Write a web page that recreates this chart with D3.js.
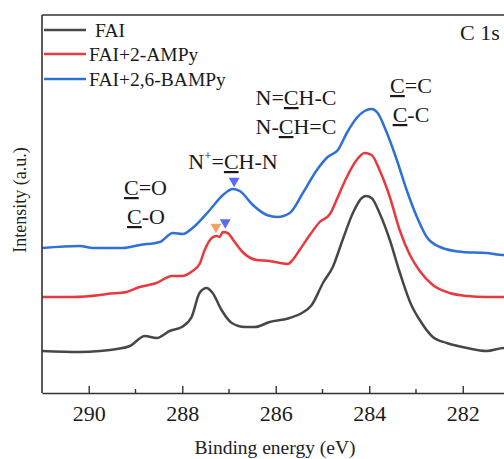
<!DOCTYPE html>
<html>
<head>
<meta charset="utf-8">
<script src="https://cdn.jsdelivr.net/npm/d3@7"></script>
<style>
  body { margin: 0; background: #fff; }
  svg text { font-family: "Liberation Serif", "Times New Roman", Times, serif; }
</style>
</head>
<body>
<svg class="svg"></svg>
<script>
// binding energy (eV) / intensity (a.u.)
const faiE = [291.0, 290.19, 289.76, 289.4, 289.12, 288.8, 288.55, 288.27, 288.01, 287.8, 287.63, 287.48, 287.35, 287.16, 286.94, 286.66, 286.45, 286.13, 285.7, 285.44, 285.23, 284.99, 284.78, 284.57, 284.35, 284.16, 284.07, 283.95, 283.78, 283.56, 283.35, 283.1, 282.92, 282.64, 282.34, 281.91, 281.49, 281.12, 281.0];
const faiI = [42, 41, 42, 44, 47, 57, 55, 62, 66, 76, 100, 105, 100, 83, 70, 66, 66, 71, 75, 80, 88, 110, 126, 153, 180, 195, 197, 195, 180, 153, 121, 88, 73, 56, 50, 45, 42, 45, 45];

const ampyE = [291.0, 290.34, 289.76, 289.61, 289.19, 288.91, 288.55, 288.22, 288.01, 287.78, 287.63, 287.52, 287.37, 287.26, 287.2, 287.13, 287.03, 286.88, 286.71, 286.41, 286.13, 285.91, 285.74, 285.64, 285.49, 285.27, 285.06, 284.84, 284.7, 284.48, 284.27, 284.1, 283.95, 283.78, 283.56, 283.35, 283.13, 282.92, 282.64, 282.28, 281.91, 281.49, 281.12, 281.0];
const ampyI = [96, 96, 98, 99, 101, 106, 110, 117, 117, 122, 129, 143, 155, 157, 156, 161, 160, 151, 141, 133, 132, 130, 129, 133, 143, 158, 171, 179, 193, 216, 233, 240, 238, 223, 196, 163, 138, 122, 108, 100, 97, 96, 96, 96];

const bampyE = [291.0, 290.19, 289.91, 289.27, 288.91, 288.48, 288.2, 287.99, 287.78, 287.41, 287.13, 286.92, 286.77, 286.49, 286.19, 285.96, 285.7, 285.42, 285.12, 284.89, 284.67, 284.48, 284.27, 284.1, 283.95, 283.82, 283.63, 283.41, 283.2, 282.98, 282.77, 282.49, 282.0, 281.49, 281.12, 281.0];
const bampyI = [145, 147, 145, 145, 148, 151, 160, 159, 165, 183, 198, 204, 202, 188, 178, 176, 180, 200, 223, 236, 243, 260, 275, 282, 284, 280, 261, 233, 203, 176, 156, 146, 141, 140, 138, 138];

const seriesNames = ["FAI", "FAI+2-AMPy", "FAI+2,6-BAMPy"];
const seriesColors = ["#474747", "#e8393e", "#2e70d8"];

const xTicks = [290, 288, 286, 284, 282];
const xMinorTicks = [289, 287, 285, 283];

// peak markers (eV, intensity)
const markE = [286.89, 287.28, 287.08];
const markI = [212, 166, 170.5];
const markColors = ["#5a6cf2", "#f3a262", "#5a6cf2"];

const width = 504, height = 459;
const m = { left: 42, top: 15, right: 509.5, bottom: 393 };

const svg = d3.select(".svg").attr("width", width).attr("height", height);

const x = d3.scaleLinear().domain([291, 281]).range([m.left, m.right]);
const y = d3.scaleLinear().domain([0, 378]).range([m.bottom, m.top]);

const series = [
  { name: seriesNames[0], color: seriesColors[0], pts: faiE.map((e, i) => [e, faiI[i]]) },
  { name: seriesNames[1], color: seriesColors[1], pts: ampyE.map((e, i) => [e, ampyI[i]]) },
  { name: seriesNames[2], color: seriesColors[2], pts: bampyE.map((e, i) => [e, bampyI[i]]) }
];

const line = d3.line()
  .x(d => x(d[0]))
  .y(d => y(d[1]))
  .curve(d3.curveMonotoneX);

svg.append("g")
  .selectAll("path")
  .data(series)
  .join("path")
  .attr("d", d => line(d.pts))
  .attr("fill", "none")
  .attr("stroke", d => d.color)
  .attr("stroke-width", 2.5)
  .attr("stroke-linejoin", "round");

// frame
svg.append("line").attr("x1", m.left).attr("x2", m.left).attr("y1", m.top).attr("y2", m.bottom)
  .attr("stroke", "#333").attr("stroke-width", 1.6);
svg.append("line").attr("x1", m.left).attr("x2", m.right).attr("y1", m.top).attr("y2", m.top)
  .attr("stroke", "#333").attr("stroke-width", 1.6);

// x axis, inward ticks
const xAxis = svg.append("g")
  .attr("transform", `translate(0,${m.bottom})`)
  .call(d3.axisBottom(x).tickValues(xTicks).tickFormat(d3.format("d")).tickSizeInner(-7).tickSizeOuter(0).tickPadding(12));
xAxis.attr("font-family", null).attr("font-size", null);
xAxis.select(".domain").attr("stroke", "#333").attr("stroke-width", 1.6);
xAxis.selectAll(".tick line").attr("stroke", "#333").attr("stroke-width", 1.4);
xAxis.selectAll(".tick text").attr("font-size", 22).attr("fill", "#1a1a1a");

svg.append("g")
  .selectAll("line")
  .data(xMinorTicks)
  .join("line")
  .attr("x1", d => x(d)).attr("x2", d => x(d))
  .attr("y1", m.bottom).attr("y2", m.bottom - 4)
  .attr("stroke", "#333").attr("stroke-width", 1.4);

svg.append("text")
  .attr("x", 275).attr("y", 454)
  .attr("text-anchor", "middle")
  .attr("font-size", 19.5)
  .attr("fill", "#222")
  .text("Binding energy (eV)");

svg.append("text")
  .attr("transform", "translate(26,200) rotate(-90)")
  .attr("text-anchor", "middle")
  .attr("font-size", 18)
  .attr("fill", "#222")
  .text("Intensity (a.u.)");

// legend
const legend = svg.append("g")
  .selectAll("g")
  .data(series)
  .join("g")
  .attr("transform", (d, i) => `translate(44,${[30, 54, 79][i]})`);
legend.append("line").attr("x1", 0).attr("x2", 42)
  .attr("stroke", d => d.color).attr("stroke-width", 2.7);
legend.append("text")
  .attr("x", (d, i) => i === 0 ? 51 : 45)
  .attr("y", 6.5)
  .attr("font-size", 19.5)
  .attr("fill", "#1a1a1a")
  .text(d => d.name);

svg.append("text")
  .attr("x", 460).attr("y", 40)
  .attr("font-size", 22)
  .attr("fill", "#1a1a1a")
  .text("C 1s");

// peak labels; parts: [text, underline?, superscript?]
const labels = [
  { x: 411, y: 93, parts: [["C", 1], ["=C"]] },
  { x: 411, y: 122, parts: [["C", 1], ["-C"]] },
  { x: 296, y: 105, parts: [["N="], ["C", 1], ["H-C"]] },
  { x: 296, y: 134, parts: [["N-"], ["C", 1], ["H=C"]] },
  { x: 233, y: 169, parts: [["N"], ["+", 0, 1], ["="], ["C", 1], ["H-N"]] },
  { x: 145.5, y: 195, parts: [["C", 1], ["=O"]] },
  { x: 146, y: 224, parts: [["C", 1], ["-O"]] }
];

labels.forEach(l => {
  const t = svg.append("text")
    .attr("x", l.x).attr("y", l.y)
    .attr("text-anchor", "middle")
    .attr("font-size", 22)
    .attr("fill", "#1a1a1a");
  let up = false;
  l.parts.forEach(p => {
    const s = t.append("tspan").text(p[0]);
    if (p[2]) { s.attr("dy", -9).attr("font-size", 13); up = true; }
    else if (up) { s.attr("dy", 9); up = false; }
    if (p[1]) s.style("text-decoration", "underline");
  });
});

// triangle markers
svg.append("g")
  .selectAll("path")
  .data(markE.map((e, i) => ({ e, v: markI[i], c: markColors[i] })))
  .join("path")
  .attr("d", d3.symbol(d3.symbolTriangle, 52))
  .attr("transform", d => `translate(${x(d.e)},${y(d.v)}) rotate(180)`)
  .attr("fill", d => d.c);
</script>
</body>
</html>
